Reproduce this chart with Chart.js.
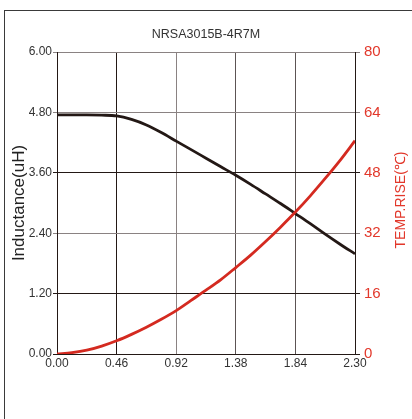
<!DOCTYPE html>
<html><head><meta charset="utf-8">
<script src="https://cdn.jsdelivr.net/npm/chart.js@4.4.0/dist/chart.umd.min.js"></script>
<style>
html,body{margin:0;padding:0;background:#fff;overflow:hidden}
#wrap{position:relative;width:412px;height:419px}
#frame{position:absolute;left:4px;top:10px;width:500px;height:500px;border:1.5px solid #3a3a3a;box-sizing:border-box}
canvas{position:absolute;left:0;top:0}
</style></head><body>
<div id="wrap"><div id="frame"></div><canvas id="c" width="412" height="419"></canvas></div>
<script>
const chartTitle = 'NRSA3015B-4R7M';
const leftAxisTitle = 'Inductance(uH)';
const rightAxisTitle = 'TEMP.RISE(℃)';
const currentA = [0, 0.115, 0.23, 0.345, 0.46, 0.575, 0.69, 0.805, 0.92, 1.035, 1.15, 1.265, 1.38, 1.495, 1.61, 1.725, 1.84, 1.955, 2.07, 2.185, 2.30];
const inductanceUH = [4.75, 4.75, 4.75, 4.745, 4.73, 4.66, 4.55, 4.40, 4.23, 4.06, 3.89, 3.72, 3.55, 3.37, 3.18, 2.99, 2.79, 2.59, 2.38, 2.18, 1.99];
const tempRiseC = [0, 0.35, 1.0, 2.1, 3.5, 5.2, 7.1, 9.2, 11.5, 14.2, 16.9, 19.7, 22.9, 26.2, 29.8, 33.6, 37.6, 41.9, 46.5, 51.3, 56.5];
const xTickLabels = ['0.00', '0.46', '0.92', '1.38', '1.84', '2.30'];
const leftTickLabels = ['0.00', '1.20', '2.40', '3.60', '4.80', '6.00'];
const rightTickLabels = ['0', '16', '32', '48', '64', '80'];

const DARK = '#231815', GRAY = '#8a8282', MID = '#5c5454';
const xGridColors = [DARK, DARK, GRAY, MID, MID, DARK];
const yGridColors = [DARK, DARK, GRAY, DARK, GRAY, GRAY];
const FONT = "'Liberation Sans', Arial, sans-serif";

const rightTitlePlugin = {
  id: 'rightTitle',
  afterDraw(chart) {
    const ctx = chart.ctx;
    ctx.save();
    ctx.translate(401, 200);
    ctx.rotate(-Math.PI / 2);
    ctx.fillStyle = '#e2382b';
    ctx.font = '14px ' + FONT;
    ctx.textAlign = 'center';
    ctx.textBaseline = 'middle';
    ctx.fillText(rightAxisTitle, 0, 0);
    ctx.restore();
  }
};

const setTicks = labels => s => { s.ticks = labels.map(v => ({ value: parseFloat(v) })); };

new Chart(document.getElementById('c'), {
  type: 'line',
  data: {
    datasets: [
      { label: 'Inductance', data: currentA.map((x, i) => ({ x, y: inductanceUH[i] })), yAxisID: 'y',
        borderColor: DARK, borderWidth: 2.8, pointRadius: 0, cubicInterpolationMode: 'monotone', order: 2 },
      { label: 'Temp rise', data: currentA.map((x, i) => ({ x, y: tempRiseC[i] })), yAxisID: 'y2',
        borderColor: '#d42a20', borderWidth: 2.8, pointRadius: 0, cubicInterpolationMode: 'monotone', order: 1 }
    ]
  },
  options: {
    responsive: false,
    animation: false,
    layout: { padding: 0 },
    plugins: {
      legend: { display: false },
      tooltip: { enabled: false },
      title: { display: true, text: chartTitle, color: '#333', font: { family: FONT, size: 12.5, weight: 'normal' }, padding: { top: 27, bottom: 10 } }
    },
    scales: {
      x: {
        type: 'linear', min: 0, max: 2.3,
        afterBuildTicks: setTicks(xTickLabels),
        afterFit: s => { s.height = 65; },
        ticks: { callback: (v, i) => xTickLabels[i], color: '#333', font: { family: FONT, size: 12 }, padding: 2, maxRotation: 0, autoSkip: false },
        grid: { color: c => xGridColors[c.index] || DARK, lineWidth: 1, drawTicks: false },
        border: { display: true, color: DARK, width: 1 }
      },
      y: {
        type: 'linear', position: 'left', min: 0, max: 6,
        afterBuildTicks: setTicks(leftTickLabels),
        afterFit: s => { s.width = 57; },
        ticks: { callback: (v, i) => leftTickLabels[i], color: '#333', font: { family: FONT, size: 12 }, padding: 1, autoSkip: false },
        grid: { color: c => yGridColors[c.index] || DARK, lineWidth: 1, tickLength: 4 },
        border: { display: true, color: DARK, width: 1 },
        title: { display: true, text: leftAxisTitle, color: '#222', font: { family: FONT, size: 17 }, padding: { top: 9, bottom: 0 } }
      },
      y2: {
        type: 'linear', position: 'right', min: 0, max: 80,
        afterBuildTicks: setTicks(rightTickLabels),
        afterFit: s => { s.width = 57; },
        ticks: { callback: (v, i) => rightTickLabels[i], color: '#e2382b', font: { family: FONT, size: 15 }, padding: 4, autoSkip: false },
        grid: { drawOnChartArea: false, color: c => yGridColors[c.index] || DARK, lineWidth: 1, tickLength: 5 },
        border: { display: true, color: DARK, width: 1 }
      }
    }
  },
  plugins: [rightTitlePlugin]
});
</script>
</body></html>
